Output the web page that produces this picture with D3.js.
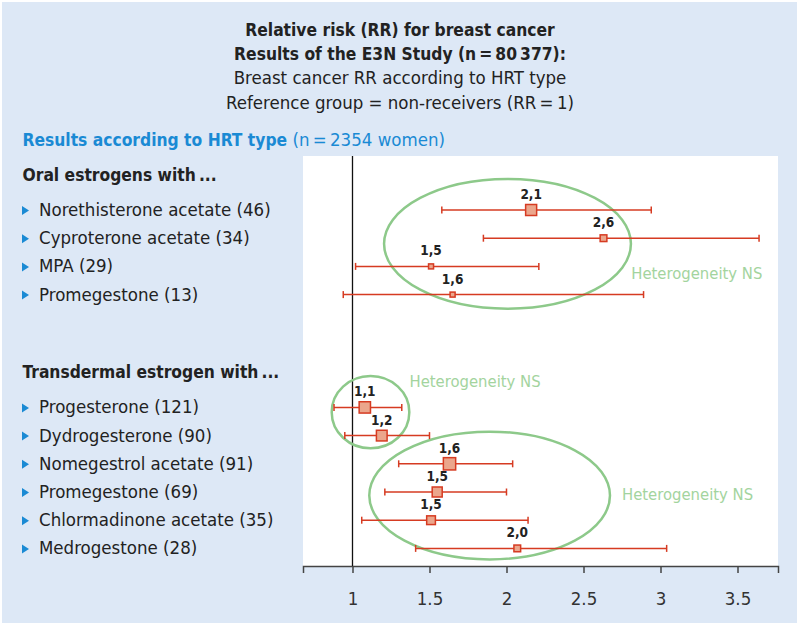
<!DOCTYPE html>
<html>
<head>
<meta charset="utf-8">
<script src="https://cdn.jsdelivr.net/npm/d3@7"></script>
<style>
  body { margin: 0; background: #fff; }
  svg text { font-family: "Liberation Sans Narrow", "DejaVu Sans Condensed", "Roboto", sans-serif; }
</style>
</head>
<body>
<div id="chart"></div>
<script>
// ---------- data ----------
var titleLines   = ["Relative risk (RR) for breast cancer",
                    "Results of the E3N Study (n\u2009=\u200980\u2009377):",
                    "Breast cancer RR according to HRT type",
                    "Reference group = non-receivers (RR\u2009=\u20091)"];
var groupTitles  = ["Oral estrogens with\u2009...", "Transdermal estrogen with\u2009..."];
var groupOf      = [0, 0, 0, 0, 1, 1, 1, 1, 1, 1];
var treatments   = ["Norethisterone acetate (46)", "Cyproterone acetate (34)", "MPA (29)", "Promegestone (13)",
                    "Progesterone (121)", "Dydrogesterone (90)", "Nomegestrol acetate (91)",
                    "Promegestone (69)", "Chlormadinone acetate (35)", "Medrogestone (28)"];
var rr           = [2.16, 2.63, 1.51, 1.65, 1.08, 1.19, 1.63, 1.55, 1.51, 2.07];
var ciLow        = [1.58, 1.85, 1.02, 0.94, 0.88, 0.95, 1.30, 1.21, 1.06, 1.41];
var ciHigh       = [2.94, 3.64, 2.21, 2.89, 1.32, 1.50, 2.04, 2.00, 2.14, 3.04];
var rrLabels     = ["2,1", "2,6", "1,5", "1,6", "1,1", "1,2", "1,6", "1,5", "1,5", "2,0"];
var weights      = [12.1, 4.5, 2.5, 2.5, 12.8, 11.4, 15.1, 10.0, 7.6, 4.5];
var xTicks       = [1, 1.5, 2, 2.5, 3, 3.5];

// heterogeneity groups: RR extent and row extent of each ellipse
var hetRR        = [[1.205, 2.808], [0.865, 1.369], [1.109, 2.672]];
var hetRows      = [[-1.10, 3.50], [5.89, 8.45], [7.86, 12.39]];
var hetTextAt    = [[2.81, 2.45], [1.37, 6.27], [2.75, 10.29]];
var hetText      = "Heterogeneity NS";

// ---------- layout ----------
var W = 800, H = 628;
var panel = {x0: 303, x1: 778, y0: 156, y1: 566};
var blue = "#1a8ad4", red = "#d63b22", salmon = "#eba68c", green = "#8dc98a", ink = "#222";
var fsBold = 17.3, fsReg = 18.5;

// row slots: 4 oral rows, 2 slots for the second header, then 6 transdermal rows
var slots = groupOf.map(function (g, i) { return g === 0 ? i : i + 3; });

var svg = d3.select("#chart").append("svg").attr("width", W).attr("height", H);

svg.append("rect").attr("x", 2).attr("y", 2).attr("width", 795).attr("height", 621).attr("fill", "#dde8f6");
svg.append("rect").attr("x", panel.x0).attr("y", panel.y0)
   .attr("width", panel.x1 - panel.x0).attr("height", panel.y1 - panel.y0).attr("fill", "#fff");

var x = d3.scaleLinear().domain([0.6786, 3.763]).range([panel.x0, panel.x1]);
var y = d3.scaleLinear().domain([0, 12]).range([210, 548.4]);
var size = d3.scaleSqrt().domain([0, 15.1]).range([0, 12.3]);

// title
svg.append("g").selectAll("text").data(titleLines).enter().append("text")
   .attr("x", 400).attr("y", function (d, i) { return 36 + i * 24.2; })
   .attr("text-anchor", "middle")
   .attr("font-size", function (d, i) { return i < 2 ? fsBold : fsReg; })
   .attr("font-weight", function (d, i) { return i < 2 ? "bold" : "normal"; })
   .attr("fill", ink)
   .text(function (d) { return d; });

var sub = svg.append("text").attr("x", 22.5).attr("y", 146).attr("fill", blue);
sub.append("tspan").attr("font-weight", "bold").attr("font-size", fsBold).text("Results according to HRT type");
sub.append("tspan").attr("font-size", fsReg).text(" (n\u2009=\u20092354 women)");

// group headers
svg.append("g").selectAll("text").data(groupTitles).enter().append("text")
   .attr("x", 22.5)
   .attr("y", function (d, i) {
     var first = slots[groupOf.indexOf(i)];
     return y(first - 1.25) + 6;
   })
   .attr("font-size", fsBold).attr("font-weight", "bold").attr("fill", ink)
   .text(function (d) { return d; });

// row labels with bullets
var rows = svg.append("g").selectAll("g").data(treatments).enter().append("g")
   .attr("transform", function (d, i) { return "translate(0," + y(slots[i]) + ")"; });
rows.append("path").attr("d", "M22,-4 L29,0.5 L22,5 Z").attr("fill", blue);
rows.append("text").attr("x", 39).attr("y", 6).attr("font-size", fsReg).attr("fill", ink)
   .text(function (d) { return d; });

// x axis
var xAxis = d3.axisBottom(x).tickValues(xTicks).tickSizeOuter(0).tickSize(7).tickPadding(19)
   .tickFormat(d3.format("~g"));
var ax = svg.append("g").attr("transform", "translate(0," + panel.y1 + ")").call(xAxis);
ax.select(".domain").attr("stroke", "#444").attr("stroke-width", 1.5);
ax.selectAll(".tick line").attr("stroke", "#444").attr("stroke-width", 1.5);
ax.selectAll(".tick text").attr("font-size", 18.5).attr("fill", "#333")
   .style("font-family", "\"Liberation Sans Narrow\", \"DejaVu Sans Condensed\", Roboto, sans-serif");

// reference line RR = 1
svg.append("line").attr("x1", x(1)).attr("x2", x(1)).attr("y1", panel.y0).attr("y2", panel.y1)
   .attr("stroke", "#111").attr("stroke-width", 1.3);

// heterogeneity ellipses
svg.append("g").selectAll("ellipse").data(hetRR).enter().append("ellipse")
   .attr("cx", function (d) { return (x(d[0]) + x(d[1])) / 2; })
   .attr("cy", function (d, i) { return (y(hetRows[i][0]) + y(hetRows[i][1])) / 2; })
   .attr("rx", function (d) { return (x(d[1]) - x(d[0])) / 2; })
   .attr("ry", function (d, i) { return (y(hetRows[i][1]) - y(hetRows[i][0])) / 2; })
   .attr("fill", "none").attr("stroke", green).attr("stroke-width", 2.5);

svg.append("g").selectAll("text").data(hetTextAt).enter().append("text")
   .attr("x", function (d) { return x(d[0]); })
   .attr("y", function (d) { return y(d[1]); })
   .attr("font-size", 16.5).attr("fill", "#a3d49e")
   .text(hetText);

// error bars
var bars = svg.append("g").selectAll("g").data(rr).enter().append("g")
   .attr("transform", function (d, i) { return "translate(0," + y(slots[i]) + ")"; });
bars.append("line")
   .attr("x1", function (d, i) { return x(ciLow[i]); })
   .attr("x2", function (d, i) { return x(ciHigh[i]); })
   .attr("stroke", red).attr("stroke-width", 1.5);
bars.append("line")
   .attr("x1", function (d, i) { return x(ciLow[i]); })
   .attr("x2", function (d, i) { return x(ciLow[i]); })
   .attr("y1", -3.5).attr("y2", 3.5).attr("stroke", red).attr("stroke-width", 1.5);
bars.append("line")
   .attr("x1", function (d, i) { return x(ciHigh[i]); })
   .attr("x2", function (d, i) { return x(ciHigh[i]); })
   .attr("y1", -3.5).attr("y2", 3.5).attr("stroke", red).attr("stroke-width", 1.5);
bars.append("rect")
   .attr("x", function (d, i) { return x(d) - size(weights[i]) / 2; })
   .attr("y", function (d, i) { return -size(weights[i]) / 2; })
   .attr("width", function (d, i) { return size(weights[i]); })
   .attr("height", function (d, i) { return size(weights[i]); })
   .attr("fill", salmon).attr("stroke", red).attr("stroke-width", 1.5);
bars.append("text")
   .attr("x", function (d) { return x(d); })
   .attr("y", -11)
   .attr("text-anchor", "middle")
   .attr("font-size", 13.5).attr("font-weight", "bold").attr("fill", ink)
   .text(function (d, i) { return rrLabels[i]; });
</script>
</body>
</html>
